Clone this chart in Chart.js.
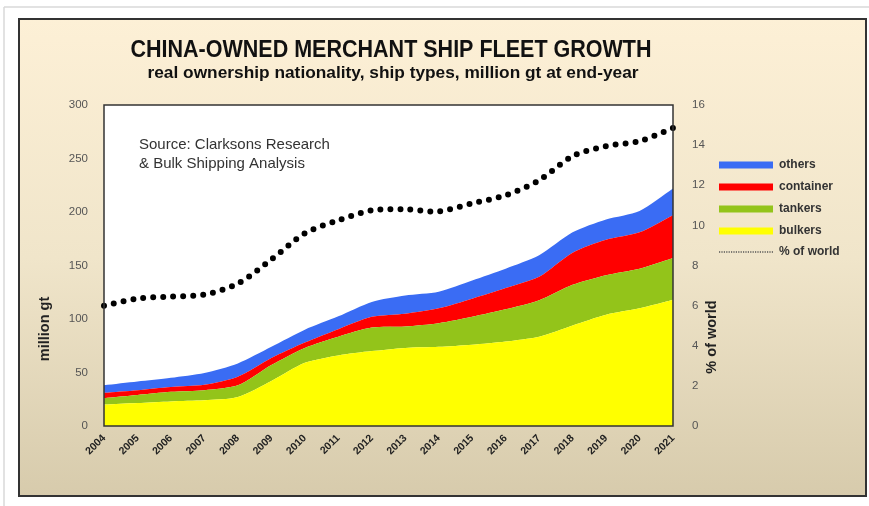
<!DOCTYPE html>
<html>
<head>
<meta charset="utf-8">
<script src="https://cdn.jsdelivr.net/npm/chart.js@4.4.1/dist/chart.umd.min.js"></script>
<style>
html,body{margin:0;padding:0;background:#fff;}
#wrap{position:relative;width:869px;height:506px;}
</style>
</head>
<body>
<div id="wrap"><canvas id="fleetChart" width="869" height="506"></canvas></div>
<script>
// million gt at end-year
const years=["2004","2005","2006","2007","2008","2009","2010","2011","2012","2013","2014","2015","2016","2017","2018","2019","2020","2021"];
const bulkers=[20,21.5,23,24,27,42,59,66,70,73,74,76,79,83.5,94,104,110,118];
const tankers=[6,7.5,9,9.5,11,15,14,17.5,22,20,22,26,30,34,38,37,37,39];
const container=[5,4.5,4.5,5,8,6.5,5,7,10,12,14,17,20,22,30,33,34,40];
const others=[7,8,8.5,11,12.5,10.5,12,12,14,17,15.5,17,18,20,19,19,20,25];
const pctWorld=[6.0,6.35,6.45,6.55,7.1,8.3,9.6,10.25,10.75,10.8,10.7,11.1,11.5,12.25,13.45,13.95,14.2,14.85];

const leftTicks=[0,50,100,150,200,250,300];
const rightTicks=[0,2,4,6,8,10,12,14,16];

const FONT="'Liberation Sans', Arial, sans-serif";

const decor={
    id:"decor",
    beforeDraw(chart){
        const ctx=chart.ctx, a=chart.chartArea;
        ctx.save();
        ctx.fillStyle="#fff";
        ctx.fillRect(0,0,chart.width,chart.height);
        // screenshot edge lines
        ctx.strokeStyle="#d9d9d9";
        ctx.lineWidth=1.5;
        ctx.beginPath();
        ctx.moveTo(4,7);ctx.lineTo(chart.width,7);
        ctx.moveTo(4,7);ctx.lineTo(4,chart.height);
        ctx.stroke();
        // beige frame
        let g=ctx.createLinearGradient(0,19,0,496);
        g.addColorStop(0,"#fdf0d6");
        g.addColorStop(0.5,"#f0e5ca");
        g.addColorStop(1,"#d7cbac");
        ctx.fillStyle=g;
        ctx.fillRect(19,19,847,477);
        ctx.strokeStyle="#333";
        ctx.lineWidth=2;
        ctx.strokeRect(19,19,847,477);
        // plot background
        ctx.fillStyle="#fff";
        ctx.fillRect(a.left,a.top,a.right-a.left,a.bottom-a.top);
        ctx.restore();
    },
    afterDatasetsDraw(chart){
        const ctx=chart.ctx, a=chart.chartArea;
        ctx.save();
        ctx.strokeStyle="#333";
        ctx.lineWidth=1.5;
        ctx.strokeRect(a.left,a.top,a.right-a.left,a.bottom-a.top);

        // titles (narrow bold look)
        ctx.fillStyle="#111";
        ctx.textAlign="center";
        ctx.textBaseline="middle";
        fitText(ctx,"CHINA-OWNED MERCHANT SHIP FLEET GROWTH","bold 24px "+FONT,391,50,521);
        fitText(ctx,"real ownership nationality, ship types, million gt at end-year","bold 17px "+FONT,393,73,491);

        // source note
        ctx.fillStyle="#333";
        ctx.textAlign="left";
        ctx.font="15px "+FONT;
        ctx.fillText("Source: Clarksons Research",139,145);
        ctx.fillText("& Bulk Shipping Analysis",139,164);

        // axis titles
        ctx.fillStyle="#222";
        ctx.font="bold 14.5px "+FONT;
        ctx.textAlign="center";
        rotText(ctx,"million gt",45,329);
        rotText(ctx,"% of world",712,337);

        // legend
        const items=[3,2,1,0,4];
        const ys=[165,187,209,231,252];
        ctx.font="bold 12px "+FONT;
        ctx.textAlign="left";
        items.forEach((di,i)=>{
            const ds=chart.data.datasets[di];
            const y=ys[i];
            if(di===4){
                ctx.strokeStyle="#555";
                ctx.lineWidth=1.6;
                ctx.setLineDash([1.2,1.2]);
                ctx.beginPath();ctx.moveTo(719,y);ctx.lineTo(773,y);ctx.stroke();
                ctx.setLineDash([]);
            }else{
                ctx.fillStyle=ds.backgroundColor;
                ctx.fillRect(719,y-3.5,54,7);
            }
            ctx.fillStyle="#333";
            ctx.fillText(ds.label,779,y);
        });
        ctx.restore();
    }
};

function fitText(ctx,txt,font,x,y,w){
    ctx.font=font;
    const m=ctx.measureText(txt).width;
    ctx.save();
    ctx.translate(x,y);
    ctx.scale(w/m,1);
    ctx.fillText(txt,0,0);
    ctx.restore();
}

function rotText(ctx,txt,x,y){
    ctx.save();
    ctx.translate(x,y);
    ctx.rotate(-Math.PI/2);
    ctx.fillText(txt,0,0);
    ctx.restore();
}

function area(label,data,color,fill){
    return {
        type:"line",label:label,data:data,yAxisID:"y",
        backgroundColor:color,borderColor:color,borderWidth:0,
        fill:fill,pointRadius:0,tension:0.25
    };
}

const ctx=document.getElementById("fleetChart").getContext("2d");
new Chart(ctx,{
    type:"line",
    data:{
        labels:years,
        datasets:[
            area("bulkers",bulkers,"#ffff00","origin"),
            area("tankers",tankers,"#93c41a","-1"),
            area("container",container,"#ff0000","-1"),
            area("others",others,"#3a6cf4","-1"),
            {
                type:"line",label:"% of world",data:pctWorld,yAxisID:"y1",
                borderColor:"#000",borderWidth:6,borderDash:[0,10],
                borderCapStyle:"round",fill:false,pointRadius:0,tension:0.3
            }
        ]
    },
    options:{
        responsive:false,
        animation:false,
        layout:{padding:{left:20,right:20,top:105,bottom:20}},
        plugins:{legend:{display:false},title:{display:false},tooltip:{enabled:false}},
        scales:{
            x:{
                offset:false,
                grid:{display:false,drawTicks:false},
                border:{display:false},
                ticks:{
                    minRotation:45,maxRotation:45,autoSkip:false,padding:6,
                    color:"#222",font:{family:FONT,size:10.5,weight:"bold"}
                },
                afterFit(s){s.height=60;}
            },
            y:{
                stacked:true,min:0,max:300,
                grid:{display:false,drawTicks:false},
                border:{display:false},
                afterBuildTicks(s){s.ticks=leftTicks.map(v=>({value:v}));},
                ticks:{padding:16,color:"#555",font:{family:FONT,size:11.5}},
                afterFit(s){s.width=84;}
            },
            y1:{
                position:"right",min:0,max:16,
                grid:{display:false,drawTicks:false},
                border:{display:false},
                afterBuildTicks(s){s.ticks=rightTicks.map(v=>({value:v}));},
                ticks:{padding:19,color:"#555",font:{family:FONT,size:11.5}},
                afterFit(s){s.width=176;}
            }
        }
    },
    plugins:[decor]
});
</script>
</body>
</html>
